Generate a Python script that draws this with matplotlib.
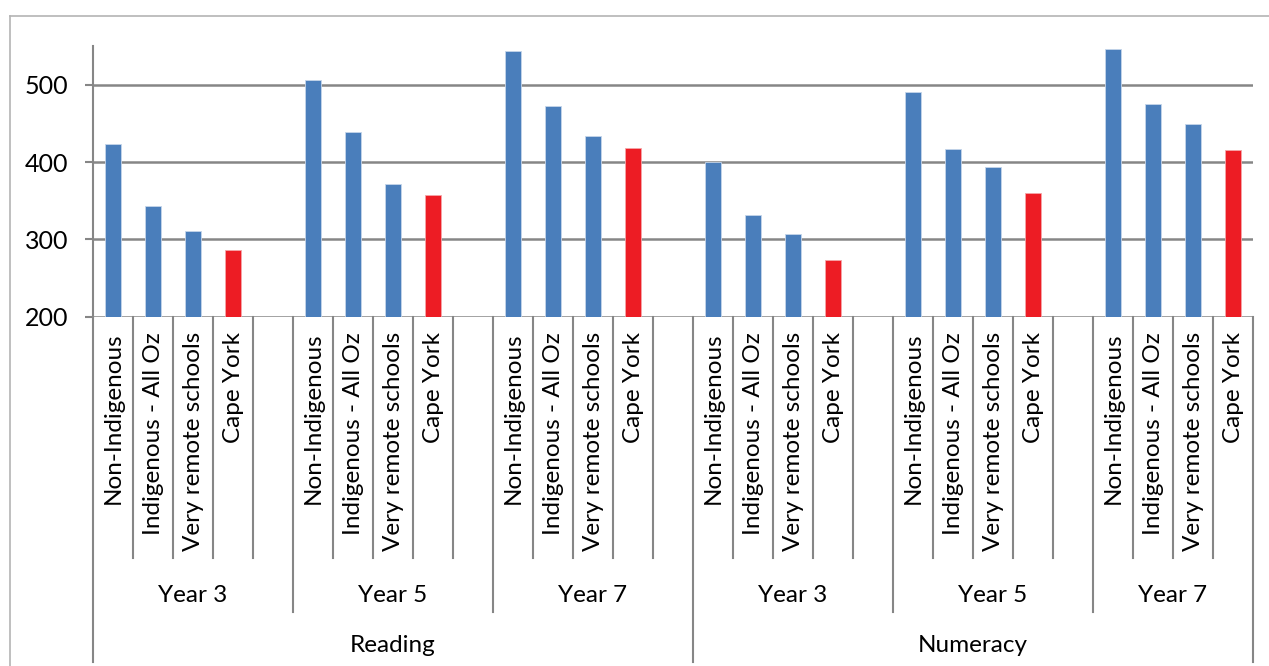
import matplotlib
matplotlib.use("Agg")
import matplotlib.pyplot as plt
from matplotlib.transforms import blended_transform_factory
from matplotlib.lines import Line2D

# Mean NAPLAN scale scores by subject, school year and student group
subjects = ["Reading", "Numeracy"]
years = ["Year 3", "Year 5", "Year 7"]
groups = ["Non-Indigenous", "Indigenous - All Oz", "Very remote schools", "Cape York"]
reading = [[423, 343, 311, 286],
           [506, 439, 372, 357],
           [544, 472, 434, 418]]
numeracy = [[400, 332, 307, 273],
            [490, 417, 393, 360],
            [546, 475, 449, 415]]
y_ticks = [200, 300, 400, 500]

BLUE = "#4A7EBB"
RED = "#ED1C24"
GRID = "#868686"
FONT = "Lato"
FS = 17.5

W, H = 1269, 666
fig = plt.figure(figsize=(W / 100, H / 100), dpi=100)
plt.rcParams["font.family"] = [FONT, "DejaVu Sans"]

def fy(py):
    return 1 - py / H

# plot area in pixel terms
x0_px, x1_px = 93, 1253
ytop_px, ybot_px = 46.0, 316.7
ax = fig.add_axes([x0_px / W, fy(ybot_px), (x1_px - x0_px) / W, (ybot_px - ytop_px) / H])

# outer chart frame
fig.add_artist(Line2D([10 / W, 10 / W], [fy(16), 0], transform=fig.transFigure,
                      color="#B4B4B4", lw=1.2))
fig.add_artist(Line2D([10 / W, 1], [fy(16), fy(16)], transform=fig.transFigure,
                      color="#B4B4B4", lw=1.2))

# lay out categories: each year block has 4 bars plus a blank slot (none after the last block)
slot = 0
bar_x, bar_h, bar_c, labels = [], [], [], []
year_spans, subject_spans = [], []
n_blocks = len(subjects) * len(years)
block = 0
for s, data in zip(subjects, [reading, numeracy]):
    s_start = slot
    for yr, vals in zip(years, data):
        y_start = slot
        for g, v in zip(groups, vals):
            bar_x.append(slot + 0.5)
            bar_h.append(v)
            bar_c.append(RED if g == "Cape York" else BLUE)
            labels.append((slot + 0.5, g))
            slot += 1
        block += 1
        if block < n_blocks:
            slot += 1
        year_spans.append((y_start, slot, yr))
    subject_spans.append((s_start, slot, s))
n_slots = slot

base = y_ticks[0]
ax.bar(bar_x, [h - base for h in bar_h], bottom=base, width=0.4, color=bar_c,
       edgecolor=["#C5D5EA" if c == BLUE else "#F5A5A8" for c in bar_c], linewidth=0.6, zorder=3)

ax.set_xlim(0, n_slots)
ax.set_ylim(200, 550)
ax.set_yticks(y_ticks)
ax.set_yticklabels([str(t) for t in y_ticks], fontsize=FS + 0.5, family=FONT)
ax.tick_params(axis="y", length=5.8, width=1.5, color=GRID, pad=12)
ax.set_xticks([])
for side in ["top", "right", "bottom"]:
    ax.spines[side].set_visible(False)
ax.spines["left"].set_color(GRID)
ax.spines["left"].set_linewidth(1.5)
for t in y_ticks:
    ax.axhline(t, color=GRID, lw=1.8, zorder=1)

tr = blended_transform_factory(ax.transData, fig.transFigure)

# category separators of the three-level axis
year_bounds = {a for a, b, _ in year_spans} | {b for a, b, _ in year_spans}
subj_bounds = {a for a, b, _ in subject_spans} | {b for a, b, _ in subject_spans}
for xb in range(0, n_slots + 1):
    if xb in subj_bounds:
        end = 662
    elif xb in year_bounds:
        end = 612
    else:
        end = 558
    ax.add_line(Line2D([xb, xb], [fy(ybot_px), fy(end)], transform=tr,
                       color=GRID, lw=1.5, clip_on=False))

# group labels (rotated)
for xc, g in labels:
    ax.text(xc, fy(332), g, transform=tr, rotation=90, ha="center", va="top",
            fontsize=FS, family=FONT)

for a, b, yr in year_spans:
    ax.text((a + b) / 2, fy(602), yr, transform=tr, ha="center", va="baseline",
            fontsize=FS, family=FONT)
for a, b, s in subject_spans:
    ax.text((a + b) / 2, fy(652), s, transform=tr, ha="center", va="baseline",
            fontsize=FS, family=FONT)

fig.savefig("out.png", dpi=100)
